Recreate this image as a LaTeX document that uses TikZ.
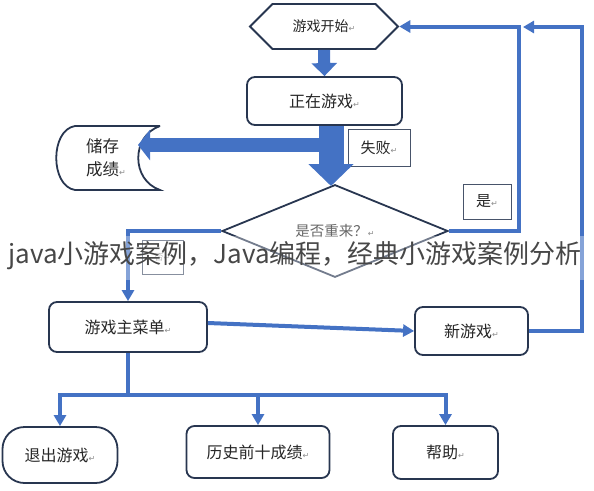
\documentclass[tikz,border=0pt]{standalone}
\usepackage{fontspec}
\setmainfont{Noto Sans CJK SC}
\newfontfamily\symfont{DejaVu Sans}
\usepackage{xcolor}
\usetikzlibrary{positioning,arrows.meta,shapes.geometric,shapes.symbols}
\definecolor{flowblue}{RGB}{68,114,196}
\definecolor{boxline}{RGB}{40,54,80}
\newcommand{\ret}{{\symfont\fontsize{8pt}{8pt}\selectfont\textcolor{black!45}{↵}}}
\tikzset{
  box/.style={draw=boxline, line width=1.8pt, rounded corners=8pt, fill=white,
    text=black!85, inner sep=0pt, font=\fontsize{16pt}{18pt}\selectfont},
  tagbox/.style={draw=boxline!85, line width=1pt, fill=white, text=black!85,
    inner sep=0pt, font=\fontsize{15pt}{17pt}\selectfont},
  flow/.style={draw=flowblue, line width=4pt, -{Triangle[width=12pt,length=11pt]}},
  flowline/.style={draw=flowblue, line width=4pt},
  fatsmall/.style={draw=flowblue, line width=12pt, -{Triangle[width=25pt,length=13pt]}},
  fatbig/.style={draw=flowblue, line width=25pt, -{Triangle[width=44pt,length=22pt]}},
  fatside/.style={draw=flowblue, line width=14pt, -{Triangle[width=30pt,length=12pt]}}
}

\begin{document}
\begin{tikzpicture}[x=1pt,y=-1pt]
            \useasboundingbox (0,0) rectangle (594,490);

            \node[draw=boxline, line width=1.8pt, fill=white, text=black!85, inner sep=0pt,
                  signal, signal to=west and east, signal pointer angle=90,
                  minimum width=148pt, minimum height=45pt,
                  font=\fontsize{14pt}{16pt}\selectfont] (start) at (324,26.5){游戏开始\ret};
            \node[box, minimum width=155pt, minimum height=48pt] (playing) at (324.5,101){正在游戏\ret};
            \node[tagbox, minimum width=62pt, minimum height=37pt] (fail) at (379,147.5){失败\ret};

            % storage outline
            \draw[draw=boxline, line width=1.8pt, fill=white] (160,126) -- (75,126)
                .. controls (50,130) and (50,186) .. (75,190) -- (160,190)
                .. controls (131,180) and (131,136) .. (160,126);
            \node[align=left, inner sep=0pt, text=black!85,
                  font=\fontsize{16.5pt}{23pt}\selectfont] (store) at (106,158){储存\\成绩\ret};

            \node[draw=boxline, line width=1.8pt, fill=white, diamond, inner sep=0pt,
                  minimum width=226pt, minimum height=74pt, text=black!60,
                  font=\fontsize{14.5pt}{16pt}\selectfont] (retry) at (335,231){是否重来？\ret};
            \node[tagbox, minimum width=48pt, minimum height=35pt] (yes) at (487,201.5){是\ret};
            \node[tagbox, minimum width=41pt, minimum height=34pt, text=black!40,
                  font=\fontsize{9pt}{10pt}\selectfont] (no) at (162.5,257){否\ret};

            \node[box, minimum width=158pt, minimum height=50pt] (menu) at (128,327){游戏主菜单\ret};
            \node[box, minimum width=113pt, minimum height=48pt] (newgame) at (471.5,331){新游戏\ret};

            \node[box, rounded corners=22pt, minimum width=115pt, minimum height=56pt] (quit) at (60,455){退出游戏\ret};
            \node[box, minimum width=143pt, minimum height=52pt] (top10) at (258,452){历史前十成绩\ret};
            \node[box, minimum width=105pt, minimum height=53pt] (help) at (445.5,452.5){帮助\ret};

            \coordinate (failtip) at (331,186);
            \coordinate (storein) at (138,145);
            \coordinate (loopA) at (519,26.5);
            \coordinate (loopB) at (582,27);
            \coordinate (loopBend) at (523,27);
            \coordinate (split) at (128,395);

            \draw[fatsmall] (start.south) -- (playing.north);
            \draw[fatside] (failtip |- storein) -- (storein);
            \draw[fatbig] (playing.south -| failtip) -- (failtip);

            \draw[flow] (retry.west) -| (menu.north);
            \draw[flow] (retry.east) -| (loopA) -- (start.east);
            \draw[flow] ([yshift=4pt]menu.east) -- (newgame.west);
            \draw[flow] (newgame.east) -| (loopB) -- (loopBend);

            \draw[flowline] (menu.south) -- (split);
            \foreach \t in {quit,top10,help}
                \draw[flow] (split) -| (\t.north);

            % watermark
            \fill[white, opacity=0.35] (0,236) rectangle (594,280);
            \node[text=black!72, inner sep=0pt, font=\fontsize{26pt}{28pt}\selectfont] (mark) at (295,256){java小游戏案例，Java编程，经典小游戏案例分析};
        \end{tikzpicture}
\end{document}
